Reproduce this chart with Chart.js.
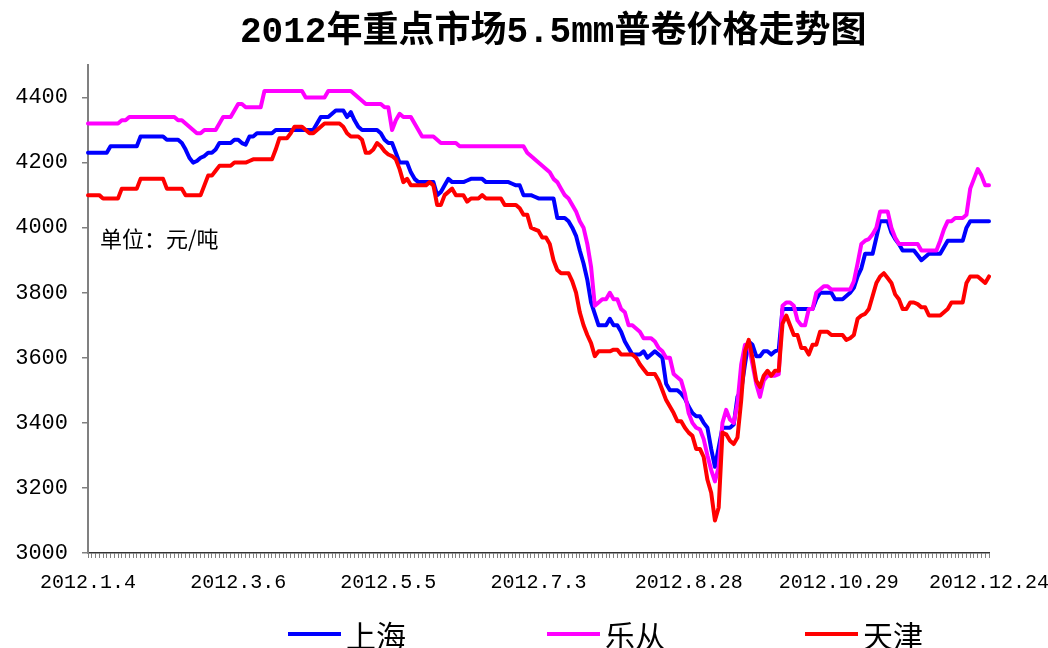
<!DOCTYPE html>
<html>
<head>
<meta charset="utf-8">
<script src="https://cdn.jsdelivr.net/npm/chart.js@4.4.0/dist/chart.umd.min.js"></script>
<style>
html,body{margin:0;padding:0;background:#fff;width:1048px;height:648px;overflow:hidden;}
#wrap{position:relative;width:1048px;height:648px;}
#c{position:absolute;left:0;top:0;}
#title{position:absolute;left:240px;top:11px;white-space:nowrap;font:bold 36px 'Liberation Mono','Noto Sans CJK SC',monospace;line-height:44px;color:#000;}
#unit{position:absolute;left:100px;top:223px;white-space:nowrap;font:22px 'Noto Sans CJK SC',sans-serif;line-height:28px;color:#000;}
.lg{position:absolute;top:616px;height:36px;white-space:nowrap;}
.lg .ln{position:absolute;left:0;top:16px;width:53px;height:4px;}
.lg .tx{position:absolute;left:58px;top:0;font:30px 'Noto Sans CJK SC',sans-serif;line-height:36px;color:#000;}
</style>
</head>
<body>
<div id="wrap">
  <canvas id="c" width="1048" height="648"></canvas>
  <div id="title">2012年重点市场5.5mm普卷价格走势图</div>
  <div id="unit">单位：元/吨</div>
  <div id="legend"></div>
</div>
<script>
const tickLabels = ['2012.1.4','2012.3.6','2012.5.5','2012.7.3','2012.8.28','2012.10.29','2012.12.24'];
const labelStep = 40;
const yTicks = [3000,3200,3400,3600,3800,4000,4200,4400];
const seriesNames = ['上海','乐从','天津'];
const seriesColors = ['#0000FF','#FF00FF','#FF0000'];

const shanghai = [
4230,4230,4230,4230,4230,4230,4250,4250,4250,4250,
4250,4250,4250,4250,4280,4280,4280,4280,4280,4280,
4280,4270,4270,4270,4270,4260,4240,4215,4200,4205,
4215,4220,4230,4230,4240,4260,4260,4260,4260,4270,
4270,4260,4255,4280,4280,4290,4290,4290,4290,4290,
4300,4300,4300,4300,4300,4300,4300,4300,4300,4300,
4300,4320,4340,4340,4340,4350,4360,4360,4360,4340,
4355,4330,4310,4300,4300,4300,4300,4300,4290,4270,
4260,4260,4230,4200,4200,4200,4170,4150,4140,4140,
4140,4140,4140,4100,4110,4130,4150,4140,4140,4140,
4140,4145,4150,4150,4150,4150,4140,4140,4140,4140,
4140,4140,4140,4135,4130,4130,4100,4100,4100,4095,
4090,4090,4090,4090,4090,4030,4030,4030,4020,4000,
3975,3930,3890,3840,3770,3735,3700,3700,3700,3720,
3700,3700,3680,3650,3630,3610,3610,3610,3620,3600,
3610,3620,3610,3600,3520,3500,3500,3500,3490,3475,
3450,3430,3420,3420,3400,3385,3320,3265,3325,3385,
3385,3385,3395,3480,3500,3580,3650,3640,3605,3605,
3620,3620,3610,3620,3625,3750,3750,3750,3750,3750,
3750,3750,3750,3750,3780,3800,3800,3800,3800,3780,
3780,3780,3790,3800,3815,3850,3875,3920,3920,3920,
3970,4020,4020,4020,3985,3965,3950,3930,3930,3930,
3930,3915,3900,3910,3920,3920,3920,3920,3940,3960,
3960,3960,3960,3960,4000,4020,4020,4020,4020,4020,
4020];

const lecong = [
4320,4320,4320,4320,4320,4320,4320,4320,4320,4330,
4330,4340,4340,4340,4340,4340,4340,4340,4340,4340,
4340,4340,4340,4340,4330,4330,4320,4310,4300,4290,
4290,4300,4300,4300,4300,4320,4340,4340,4340,4360,
4380,4380,4370,4370,4370,4370,4370,4420,4420,4420,
4420,4420,4420,4420,4420,4420,4420,4420,4400,4400,
4400,4400,4400,4400,4420,4420,4420,4420,4420,4420,
4420,4410,4400,4390,4380,4380,4380,4380,4380,4370,
4370,4300,4330,4350,4340,4340,4340,4320,4300,4280,
4280,4280,4280,4270,4260,4260,4260,4260,4260,4250,
4250,4250,4250,4250,4250,4250,4250,4250,4250,4250,
4250,4250,4250,4250,4250,4250,4250,4230,4220,4210,
4200,4190,4180,4170,4150,4140,4120,4100,4090,4070,
4050,4020,4000,3950,3880,3760,3770,3780,3780,3800,
3780,3780,3750,3740,3700,3700,3690,3680,3660,3660,
3660,3650,3630,3620,3600,3600,3550,3540,3530,3490,
3430,3400,3385,3380,3350,3300,3255,3220,3265,3400,
3440,3410,3400,3460,3580,3640,3640,3580,3520,3480,
3530,3545,3545,3545,3550,3760,3770,3770,3760,3715,
3700,3700,3750,3750,3800,3810,3820,3820,3810,3810,
3810,3810,3810,3810,3835,3890,3950,3960,3965,3980,
4000,4050,4050,4050,4000,3970,3950,3950,3950,3950,
3950,3950,3930,3930,3930,3930,3930,3960,3995,4020,
4020,4030,4030,4030,4040,4120,4150,4180,4160,4130,
4130];

const tianjin = [
4100,4100,4100,4100,4090,4090,4090,4090,4090,4120,
4120,4120,4120,4120,4150,4150,4150,4150,4150,4150,
4150,4120,4120,4120,4120,4120,4100,4100,4100,4100,
4100,4130,4160,4160,4175,4190,4190,4190,4190,4200,
4200,4200,4200,4205,4210,4210,4210,4210,4210,4210,
4240,4275,4275,4275,4290,4310,4310,4310,4300,4290,
4290,4300,4310,4320,4320,4320,4320,4320,4310,4290,
4280,4280,4280,4270,4230,4230,4240,4260,4250,4235,
4225,4220,4210,4180,4140,4150,4130,4130,4130,4130,
4130,4140,4130,4070,4070,4100,4110,4120,4100,4100,
4100,4080,4090,4090,4090,4100,4090,4090,4090,4090,
4090,4070,4070,4070,4070,4060,4040,4040,4000,3995,
3990,3970,3970,3950,3900,3870,3860,3860,3860,3835,
3800,3740,3700,3670,3645,3605,3620,3620,3620,3620,
3625,3625,3610,3610,3610,3610,3600,3580,3565,3550,
3550,3550,3530,3500,3470,3450,3430,3405,3405,3385,
3370,3360,3320,3320,3295,3225,3185,3100,3140,3370,
3365,3345,3335,3355,3470,3620,3655,3600,3530,3510,
3545,3560,3545,3560,3560,3705,3730,3700,3670,3670,
3630,3630,3610,3640,3640,3680,3680,3680,3670,3670,
3670,3670,3655,3660,3670,3720,3730,3735,3750,3790,
3830,3850,3860,3845,3830,3795,3780,3750,3750,3770,
3770,3765,3755,3755,3730,3730,3730,3730,3740,3750,
3770,3770,3770,3770,3830,3850,3850,3850,3840,3830,
3850];

const categories = shanghai.map((_, i) => (i % labelStep === 0 ? tickLabels[i / labelStep] : ''));

// HTML legend
const legendLeft = [288, 547, 805];
const legendEl = document.getElementById('legend');
seriesNames.forEach((name, k) => {
  const d = document.createElement('div');
  d.className = 'lg';
  d.style.left = legendLeft[k] + 'px';
  d.innerHTML = '<div class="ln" style="background:' + seriesColors[k] + '"></div><div class="tx">' + name + '</div>';
  legendEl.appendChild(d);
});

const seriesData = [shanghai, lecong, tianjin];
const drawOrder = [2, 1, 0];
const monoFont = "'Liberation Mono', monospace";

new Chart(document.getElementById('c').getContext('2d'), {
  type: 'line',
  data: {
    labels: categories,
    datasets: seriesNames.map((name, k) => ({
      label: name,
      data: seriesData[k],
      borderColor: seriesColors[k],
      backgroundColor: seriesColors[k],
      borderWidth: 4,
      pointRadius: 0,
      pointHoverRadius: 0,
      tension: 0,
      fill: false,
      borderJoinStyle: 'round',
      borderCapStyle: 'round',
      order: drawOrder[k]
    }))
  },
  options: {
    responsive: false,
    animation: false,
    devicePixelRatio: 1,
    layout: { padding: { top: 65, bottom: 50, left: 0, right: 0 } },
    plugins: {
      legend: { display: false },
      title: { display: false },
      tooltip: { enabled: false }
    },
    scales: {
      x: {
        type: 'category',
        offset: false,
        grid: { display: true, drawOnChartArea: false, drawTicks: true, tickLength: 5, color: '#808080', lineWidth: 1 },
        border: { display: true, color: '#333333', width: 1.5 },
        ticks: {
          autoSkip: false, maxRotation: 0, minRotation: 0, padding: 13,
          color: '#000', font: { family: monoFont, size: 20 }
        },
        afterFit: (s) => { s.height = 45; s.paddingRight = 59; s.paddingLeft = 0; }
      },
      y: {
        min: 3000,
        max: 4500,
        afterBuildTicks: (s) => { s.ticks = yTicks.map(v => ({ value: v })); },
        grid: { display: true, drawOnChartArea: false, drawTicks: true, tickLength: 6, color: '#808080', lineWidth: 1.5 },
        border: { display: true, color: '#808080', width: 2 },
        ticks: {
          padding: 14, color: '#000', font: { family: monoFont, size: 22 },
          callback: (v) => String(v)
        },
        afterFit: (s) => { s.width = 88; }
      }
    }
  }
});
</script>
</body>
</html>
